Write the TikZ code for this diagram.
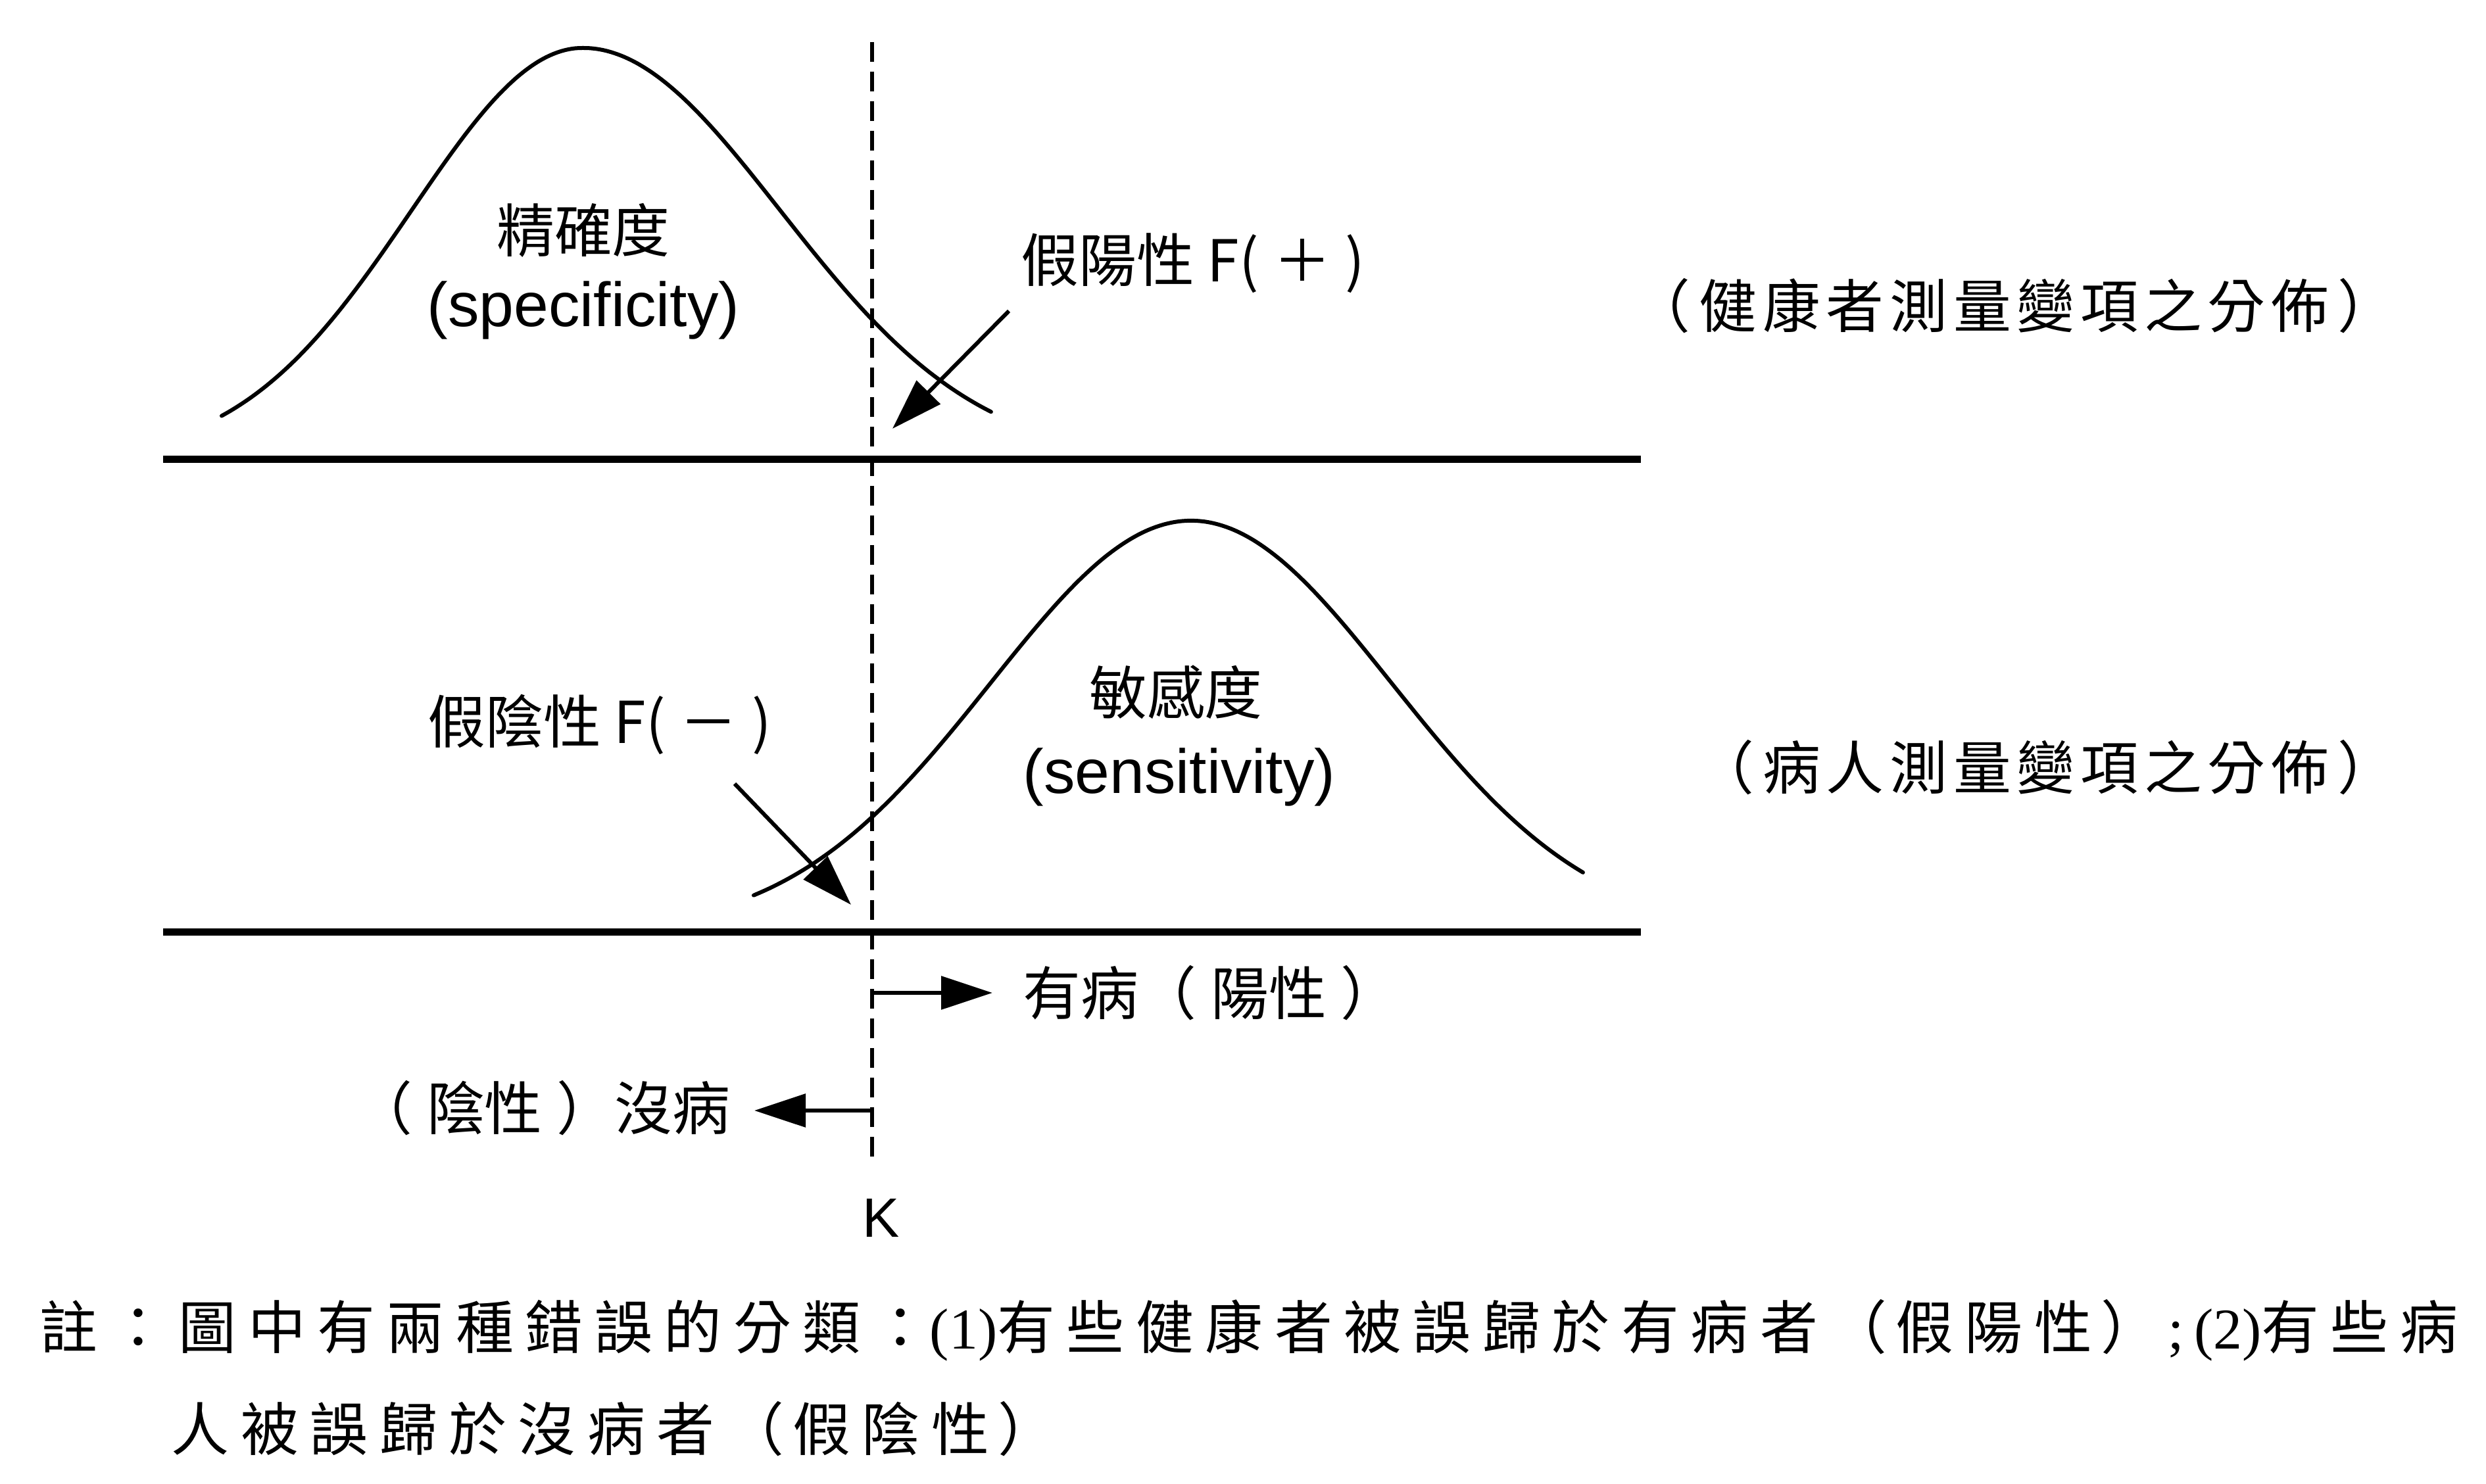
\documentclass[tikz,border=0pt]{standalone}
\usepackage{fontspec}
\setmainfont{Liberation Sans}
\newfontfamily\cjk{Noto Sans CJK TC}
\newfontfamily\cjks[LetterSpace=10]{Noto Sans CJK TC}
\newfontfamily\cjkn[LetterSpace=20]{Noto Sans CJK TC}
\newfontfamily\tnr{Liberation Serif}
\usetikzlibrary{arrows.meta}
\newcommand{\po}{（\hspace{0.15em}}
\newcommand{\pc}{\hspace{0.15em}）}
\newcommand{\pO}{（\hspace{0.25em}}
\newcommand{\pC}{\hspace{0.25em}）}
\begin{document}
\begin{tikzpicture}[
  lbl/.style={inner sep=0pt, font=\fontsize{25}{30}\selectfont},
  lat/.style={inner sep=0pt, font=\fontsize{27}{30}\selectfont},
  curve/.style={line width=0.06cm, line cap=round, smooth},
  axis/.style={line width=0.11cm},
  cut/.style={line width=0.055cm, dash pattern=on 0.3cm off 0.15cm},
  pointer/.style={line width=0.06cm, -{Triangle[length=0.78cm,width=0.5cm]}},
]
\useasboundingbox (0,0) rectangle (37.8,22.57);

% axes
\coordinate (A1l) at (2.48,15.58);
\coordinate (A1r) at (24.95,15.58);
\coordinate (A2l) at (2.48,8.39);
\coordinate (A2r) at (24.95,8.39);
\draw[axis] (A1l) -- (A1r);
\draw[axis] (A2l) -- (A2r);

% cut-off line K
\coordinate (Ktop) at (13.26,21.93);
\coordinate (Kbot) at (13.26,4.87);
\draw[cut] (Ktop) -- (Kbot);
\node[inner sep=0pt, font=\fontsize{24}{28}\selectfont] (K) at (13.40,4.05) {K};

% healthy distribution
\draw[curve, domain=3.37:8.86, samples=50] plot (\x, {15.57+6.27*exp(-((\x-8.86)^2)/(2*2.6^2))});
\draw[curve, domain=8.86:15.07, samples=60] plot (\x, {15.57+6.27*exp(-((\x-8.86)^2)/(2*3.0^2))});

% diseased distribution
\draw[curve, domain=11.46:24.07, samples=100] plot (\x, {8.37+6.28*exp(-((\x-18.11)^2)/(2*3.05^2))});

% texts in curves
\node[lbl] (spec1) at (8.87,19.07) {\cjk 精確度};
\node[lat] (spec2) at (8.87,17.85) {(specificity)};
\node[lbl] (sens1) at (17.88,12.04) {\cjk 敏感度};
\node[lat] (sens2) at (17.93,10.75) {(sensitivity)};

% false positive
\node[lbl, anchor=west] (fp) at (15.52,18.57) {\cjk 假陽性 F(\hspace{0.25em}＋\hspace{0.25em})};
\coordinate (fpS) at (15.34,17.84);
\coordinate (fpT) at (13.57,16.05);
\draw[pointer] (fpS) -- (fpT);

% false negative
\node[lbl, anchor=east] (fn) at (11.74,11.55) {\cjk 假陰性 F(\hspace{0.25em}－\hspace{0.25em})};
\coordinate (fnS) at (11.17,10.65);
\coordinate (fnT) at (12.94,8.81);
\draw[pointer] (fnS) -- (fnT);

% right side captions
\node[lbl, anchor=east] (healthy) at (36.43,17.92) {\cjks \po 健康者測量變項之分佈\pc};
\node[lbl, anchor=east] (ill) at (36.43,10.90) {\cjks \po 病人測量變項之分佈\pc};

% decision arrows
\coordinate (posS) at (13.26,7.47);
\coordinate (posT) at (15.09,7.47);
\draw[pointer] (posS) -- (posT);
\node[lbl, anchor=west] (pos) at (15.55,7.47) {\cjk 有病\pO 陽性\pC};
\coordinate (negS) at (13.26,5.68);
\coordinate (negT) at (11.47,5.68);
\draw[pointer] (negS) -- (negT);
\node[lbl, anchor=east] (neg) at (11.11,5.72) {\cjk \pO 陰性\pC 沒病};

% footnote
\node[lbl, anchor=west] (note1) at (0.60,2.34) {\cjkn 註：圖中有兩種錯誤的分類：{\tnr(1)}有些健康者被誤歸於有病者\po 假陽性\pc{\tnr\,;\,}{\tnr(2)}有些病};
\node[lbl, anchor=west] (note2) at (2.60,0.84) {\cjkn 人被誤歸於沒病者\po 假陰性\pc};
\end{tikzpicture}
\end{document}
